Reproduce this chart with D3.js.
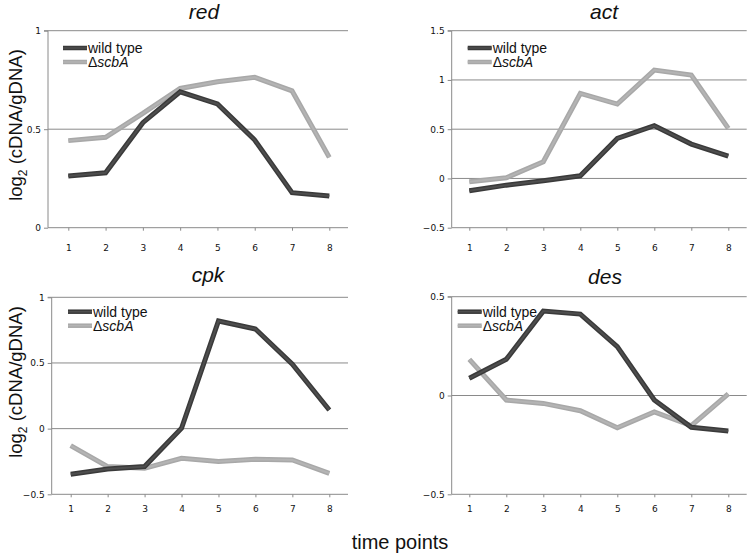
<!DOCTYPE html>
<html>
<head>
<meta charset="utf-8">
<script src="https://cdn.jsdelivr.net/npm/d3@7"></script>
<style>
  html, body { margin: 0; padding: 0; background: #fff; }
  svg { display: block; }
</style>
</head>
<body>
<svg id="chart" width="750" height="559"></svg>
<script>
// ---------------- data ----------------
const timePoints = ["1", "2", "3", "4", "5", "6", "7", "8"];
const seriesNames = ["wild type", "ΔscbA"];
const panelTitles = ["red", "act", "cpk", "des"];

const redWild  = [0.262, 0.279, 0.533, 0.690, 0.628, 0.445, 0.178, 0.161];
const redScbA  = [0.442, 0.459, 0.580, 0.707, 0.741, 0.763, 0.695, 0.357];

const actWild  = [-0.125, -0.068, -0.024, 0.027, 0.406, 0.535, 0.349, 0.227];
const actScbA  = [-0.034, 0.007, 0.169, 0.863, 0.755, 1.100, 1.049, 0.508];

const cpkWild  = [-0.348, -0.307, -0.289, 0.003, 0.820, 0.759, 0.490, 0.142];
const cpkScbA  = [-0.129, -0.289, -0.302, -0.226, -0.251, -0.234, -0.239, -0.340];

const desWild  = [0.087, 0.183, 0.427, 0.412, 0.247, -0.023, -0.161, -0.180];
const desScbA  = [0.183, -0.023, -0.040, -0.077, -0.163, -0.083, -0.153, 0.008];

const redTicks = [0, 0.5, 1];
const actTicks = [-0.5, 0, 0.5, 1, 1.5];
const cpkTicks = [-0.5, 0, 0.5, 1];
const desTicks = [-0.5, 0, 0.5];

const yAxisLabel = "log";
const yAxisLabelSub = "2";
const yAxisLabelRest = " (cDNA/gDNA)";
const xAxisLabel = "time points";

// ---------------- layout ----------------
const panels = [
  { title: panelTitles[0], wild: redWild, scbA: redScbA, ticks: redTicks,
    x0: 48, x1: 348, yTop: 30.7, yBot: 227.7, pFirst: 68.3, pLast: 329.3,
    titleX: 204, titleY: 19, legX: 63, legY: 48, tickLabelY: 248 },
  { title: panelTitles[1], wild: actWild, scbA: actScbA, ticks: actTicks,
    x0: 451.7, x1: 746.7, yTop: 30.7, yBot: 227.7, pFirst: 469.3, pLast: 728.3,
    titleX: 604, titleY: 19, legX: 467.7, legY: 48, tickLabelY: 248 },
  { title: panelTitles[2], wild: cpkWild, scbA: cpkScbA, ticks: cpkTicks,
    x0: 51.7, x1: 348, yTop: 297.3, yBot: 494.3, pFirst: 70.7, pLast: 329.3,
    titleX: 208, titleY: 282, legX: 68, legY: 311.7, tickLabelY: 509 },
  { title: panelTitles[3], wild: desWild, scbA: desScbA, ticks: desTicks,
    x0: 451.7, x1: 746.7, yTop: 296.7, yBot: 494.3, pFirst: 469.3, pLast: 728.3,
    titleX: 605, titleY: 284, legX: 457.7, legY: 311.7, tickLabelY: 509 }
];

const gridColor = "#8a8a8a";
const darkColor = "#3a3a3a";
const darkInner = "#4e4e4e";
const lightColor = "#a8a8a8";
const lightInner = "#b4b4b4";

const svg = d3.select("#chart");

panels.forEach(p => {
  const g = svg.append("g");
  const y = d3.scaleLinear()
    .domain([d3.min(p.ticks), d3.max(p.ticks)])
    .range([p.yBot, p.yTop]);
  const x = d3.scalePoint().domain(timePoints).range([p.pFirst, p.pLast]);

  // gridlines (all ticks except bottom)
  g.selectAll("line.grid")
    .data(p.ticks.slice(1))
    .enter().append("line")
    .attr("x1", p.x0).attr("x2", p.x1)
    .attr("y1", d => y(d)).attr("y2", d => y(d))
    .attr("stroke", gridColor).attr("stroke-width", 1);

  // y axis
  const yAxis = d3.axisLeft(y).tickValues(p.ticks).tickSize(4).tickPadding(3)
    .tickFormat(d => d3.format("")(d));
  const ya = g.append("g").attr("transform", `translate(${p.x0},0)`).call(yAxis);
  ya.select(".domain").attr("stroke", gridColor).attr("d", `M-4,${p.yTop}H0V${p.yBot}`);
  ya.selectAll(".tick line").attr("stroke", gridColor);
  ya.selectAll(".tick text")
    .attr("font-family", "DejaVu Sans, Verdana, sans-serif")
    .attr("font-size", 9).attr("fill", "#111");

  // x axis (at bottom)
  const xAxis = d3.axisBottom(x).tickSize(3).tickPadding(8);
  const xa = g.append("g").attr("transform", `translate(0,${p.yBot})`).call(xAxis);
  xa.select(".domain").attr("stroke", gridColor).attr("d", `M${p.x0},0H${p.x1}`);
  xa.selectAll(".tick line").attr("stroke", gridColor);
  xa.selectAll(".tick text")
    .attr("font-family", "DejaVu Sans, Verdana, sans-serif")
    .attr("font-size", 9).attr("fill", "#111")
    .attr("y", null).attr("dy", null)
    .attr("transform", `translate(0,${p.tickLabelY - p.yBot})`)
    .attr("dominant-baseline", "middle");

  // lines
  const line = d3.line()
    .x((d, i) => x(timePoints[i]))
    .y(d => y(d));

  const drawSeries = (vals, outer, inner) => {
    g.append("path").datum(vals).attr("d", line)
      .attr("fill", "none").attr("stroke", outer).attr("stroke-width", 5)
      .attr("stroke-linejoin", "miter").attr("stroke-miterlimit", 4);
    g.append("path").datum(vals).attr("d", line)
      .attr("fill", "none").attr("stroke", inner).attr("stroke-width", 2)
      .attr("stroke-linejoin", "miter");
  };
  drawSeries(p.scbA, lightColor, lightInner);
  drawSeries(p.wild, darkColor, darkInner);

  // legend
  const leg = g.append("g");
  const legItems = [
    { name: seriesNames[0], outer: darkColor, inner: darkInner, italic: false },
    { name: seriesNames[1], outer: lightColor, inner: lightInner, italic: true }
  ];
  legItems.forEach((it, i) => {
    const ly = p.legY + i * 14;
    leg.append("line").attr("x1", p.legX).attr("x2", p.legX + 24)
      .attr("y1", ly).attr("y2", ly)
      .attr("stroke", it.outer).attr("stroke-width", 4.5);
    leg.append("line").attr("x1", p.legX).attr("x2", p.legX + 24)
      .attr("y1", ly).attr("y2", ly)
      .attr("stroke", it.inner).attr("stroke-width", 1.5);
    const t = leg.append("text").attr("x", p.legX + 25).attr("y", ly + 5)
      .attr("font-family", "Liberation Sans, Arial, sans-serif")
      .attr("font-size", 14).attr("fill", "#111");
    if (it.italic) {
      t.append("tspan").text(it.name[0]);
      t.append("tspan").attr("font-style", "italic").text(it.name.slice(1));
    } else {
      t.text(it.name);
    }
  });

  // title
  g.append("text").attr("x", p.titleX).attr("y", p.titleY)
    .attr("text-anchor", "middle")
    .attr("font-family", "Liberation Sans, Arial, sans-serif")
    .attr("font-style", "italic").attr("font-size", 21).attr("fill", "#111")
    .text(p.title);
});

// y axis labels
[125, 382].forEach(cy => {
  const t = svg.append("text")
    .attr("transform", `translate(22,${cy}) rotate(-90)`)
    .attr("text-anchor", "middle")
    .attr("font-family", "Liberation Sans, Arial, sans-serif")
    .attr("font-size", 18.5).attr("fill", "#111");
  t.append("tspan").text(yAxisLabel);
  t.append("tspan").attr("font-size", 12).attr("dy", 5).text(yAxisLabelSub);
  t.append("tspan").attr("dy", -5).text(yAxisLabelRest);
});

// x axis label
svg.append("text").attr("x", 400).attr("y", 549)
  .attr("text-anchor", "middle")
  .attr("font-family", "Liberation Sans, Arial, sans-serif")
  .attr("font-size", 20).attr("fill", "#111")
  .text(xAxisLabel);
</script>
</body>
</html>
